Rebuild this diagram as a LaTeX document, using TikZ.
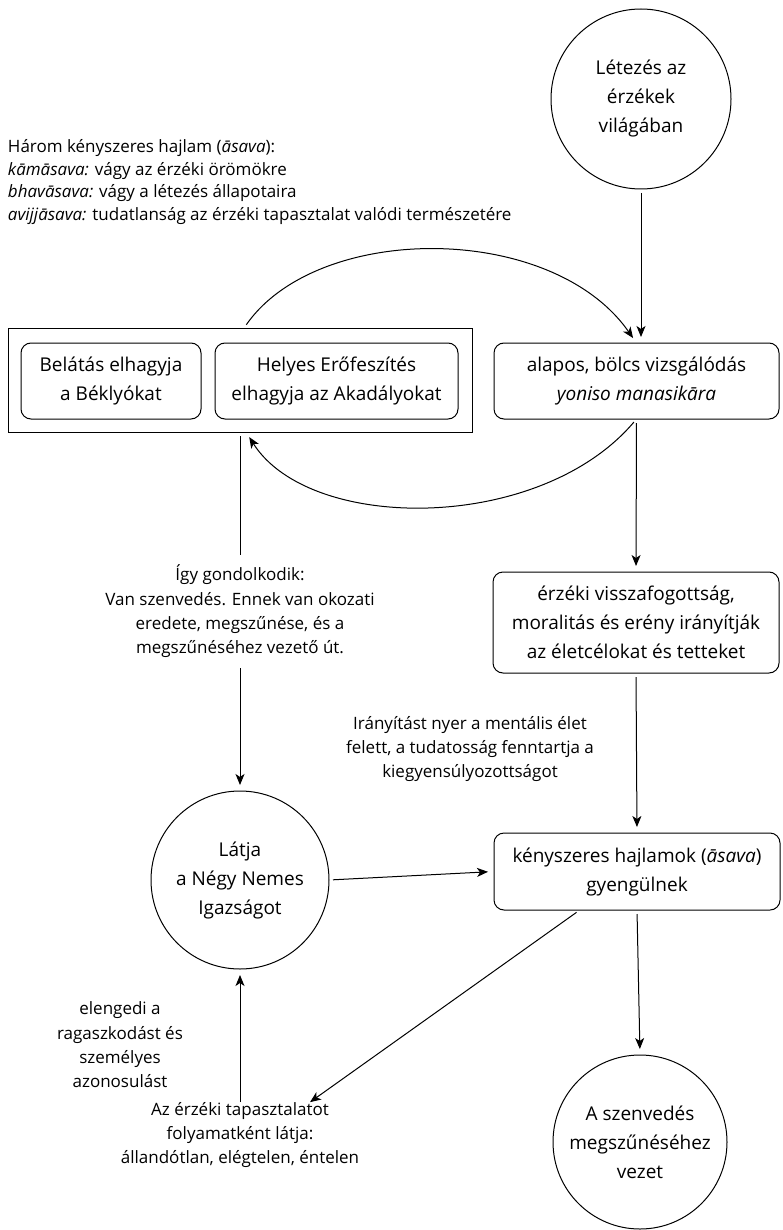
\documentclass[tikz,border=0pt]{standalone}
\usepackage{fontspec}
\setmainfont{Open Sans}
\usetikzlibrary{arrows.meta,calc}
\begin{document}
\begin{tikzpicture}[x=1pt,y=-1pt,
  every node/.style={inner sep=0pt, outer sep=0pt},
  boxtxt/.style={font=\fontsize{19}{29}\selectfont, align=center},
  lbltxt/.style={font=\fontsize{17}{24.3}\selectfont, align=center},
  listtxt/.style={font=\fontsize{17}{22.5}\selectfont, align=left},
  rbox/.style={boxtxt, draw, rounded corners=10pt, line width=1pt},
  circ/.style={boxtxt, draw, circle, line width=1pt},
  conn/.style={line width=1pt, -{Stealth[length=11pt,width=9pt,inset=3pt]}, shorten <=4pt, shorten >=6pt},
]
\useasboundingbox (0,0) rectangle (782,1230);

% circles
\node[circ, minimum size=180pt] (letez) at (641,99) {Létezés az\\érzékek\\világában};
\node[circ, minimum size=178pt] (latja) at (240,880) {Látja\\a Négy Nemes\\Igazságot};
\node[circ, minimum size=174pt] (szunes) at (640,1142) {A szenvedés\\megszűnéséhez\\vezet};

% rounded boxes on the right
\node[rbox, minimum width=285pt, minimum height=76pt] (alapos) at (636.5,381)
  {alapos, bölcs vizsgálódás\\\textit{yoniso manasikāra}};
\node[rbox, minimum width=286pt, minimum height=101pt] (erz) at (636,622.5)
  {érzéki visszafogottság,\\moralitás és erény irányítják\\az életcélokat és tetteket};
\node[rbox, minimum width=286pt, minimum height=77pt] (ken) at (637,871.5)
  {kényszeres hajlamok (\textit{āsava})\\gyengülnek};

% group of the two abandoning steps
\node[draw, line width=1pt, minimum width=464pt, minimum height=104pt] (grp) at (240,380) {};
\node[rbox, minimum width=180pt, minimum height=76pt] (belat) at (111,381)
  {Belátás elhagyja\\a Béklyókat};
\node[rbox, minimum width=243pt, minimum height=76pt] (helyes) at (336.5,381)
  {Helyes Erőfeszítés\\elhagyja az Akadályokat};

% free texts
\node[listtxt, anchor=west] (harom) at (8,182)
  {Három kényszeres hajlam (\textit{āsava}):\\
   \textit{kāmāsava:} vágy az érzéki örömökre\\
   \textit{bhavāsava:} vágy a létezés állapotaira\\
   \textit{avijjāsava:} tudatlanság az érzéki tapasztalat valódi természetére};
\node[lbltxt] (iranyit) at (470,749)
  {Irányítást nyer a mentális élet\\felett, a tudatosság fenntartja a\\kiegyensúlyozottságot};
\node[lbltxt] (elenged) at (120,1045)
  {elengedi a\\ragaszkodást és\\személyes\\azonosulást};
\node[lbltxt] (tapl) at (240,1135)
  {Az érzéki tapasztalatot\\folyamatként látja:\\állandótlan, elégtelen, éntelen};

% connectors
\draw[conn] (letez.south) -- (letez.south |- alapos.north);
\draw[conn] ($(grp.north)+(4,0)$) .. controls (318,222) and (552,222) .. (alapos.north);
\draw[conn] (alapos.south) .. controls (540,533) and (310,533) .. ($(grp.south)+(6,0)$);
\draw[conn] (alapos.south) -- (erz.north);
\draw[conn] (grp.south) -- (latja.north)
  node[lbltxt, midway, fill=white, inner sep=10pt] (igy)
  {Így gondolkodik:\\Van szenvedés. Ennek van okozati\\eredete, megszűnése, és a\\megszűnéséhez vezető út.};
\draw[conn] (erz.south) -- (ken.north);
\draw[conn] (latja.east) -- (ken.west);
\draw[conn] (ken.south) -- (szunes.north);
\draw[conn, shorten >=0pt] ($(ken.south west)!0.3!(ken.south east)$) -- ($(tapl.north)+(70,0)$);
\draw[conn, shorten <=0pt] (tapl.north) -- (latja.south);
\end{tikzpicture}
\end{document}
